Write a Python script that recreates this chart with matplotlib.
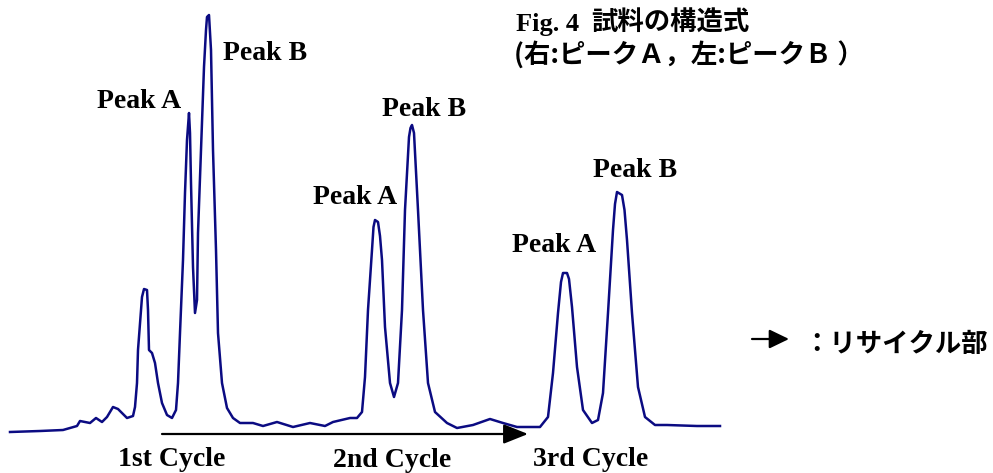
import matplotlib
matplotlib.use("Agg")
import matplotlib.pyplot as plt

# ---- data (retention time in chart units, detector signal) ----
time = [10, 40, 63, 77, 80, 90, 96, 102, 107, 113, 118, 127, 133, 135, 137, 138, 142, 144,
        147, 148, 149, 152, 155, 158, 162, 167, 172, 176, 178, 180, 183, 185, 187, 189, 190,
        191, 193, 195, 197, 198, 201, 204, 206, 207, 209, 211, 213, 216, 218, 222, 227, 233, 240,
        253, 263, 277, 293, 310, 325, 333, 350, 357, 362, 365, 368, 372, 373.5, 375, 378, 380,
        382, 385, 390, 394, 398, 402, 405, 409, 410.5, 412, 414, 418, 423, 428, 435, 447, 457,
        473, 490, 503, 517, 533, 540, 548, 553, 558, 561, 563, 567, 569, 572, 577, 583, 592,
        598, 603, 608, 613, 615, 617, 622, 624.5, 627, 632, 638, 645, 655, 667, 697, 720]
signal = [0, 1, 2, 6, 11, 9, 14, 10, 15, 25, 23, 14, 16, 25, 49, 82, 135, 143,
          142, 122, 82, 79, 69, 49, 29, 17, 14, 22, 49, 99, 172, 239, 292, 319, 299,
          249, 165, 119, 132, 199, 282, 365, 402, 415, 417, 382, 282, 182, 99, 49, 24, 14, 9,
          9, 6, 10, 5, 9, 6, 10, 14, 14, 20, 55, 122, 182, 205, 212, 210, 196,
          172, 105, 49, 35, 49, 122, 222, 295, 304, 307, 299, 222, 122, 49, 20, 9, 4,
          7, 13, 9, 5, 5, 5, 15, 59, 119, 150, 159, 159, 153, 125, 65, 22, 9,
          12, 39, 119, 202, 228, 240, 237, 222, 192, 119, 45, 15, 7, 7, 6, 6]

peak_labels = ["Peak A", "Peak B", "Peak A", "Peak B", "Peak A", "Peak B"]
cycle_labels = ["1st Cycle", "2nd Cycle", "3rd Cycle"]
title_fig = "Fig. 4"
title_jp = "試料の構造式"
subtitle = "(右:ピークＡ，左:ピークＢ ）"
legend_text = "：リサイクル部"

# ---- figure ----
W, H = 993, 473
fig = plt.figure(figsize=(W / 100, H / 100), dpi=100)
ax = fig.add_axes([0, 0, 1, 1])
ax.set_xlim(0, W)
ax.set_ylim(-41, 432)
ax.axis("off")

def row(y):
    # pixel row (from top) -> signal coordinate
    return 432 - y

ax.plot(time, signal, color="#0b0b82", lw=1.8, solid_joinstyle="round")

serif = dict(family="Liberation Serif", fontweight="bold", fontsize=20, color="black")
cjk = dict(family=["Noto Sans CJK JP", "DejaVu Sans"], fontweight="bold", fontsize=19,
           color="black")

# peak labels (left x, baseline row)
peak_pos = [(97, 108), (223, 60), (313, 204), (382, 116), (512, 252), (593, 177)]
for lab, (x, y) in zip(peak_labels, peak_pos):
    ax.text(x, row(y), lab, ha="left", va="baseline", **serif)

cycle_pos = [(118, 466), (333, 467), (533, 466)]
for lab, (x, y) in zip(cycle_labels, cycle_pos):
    ax.text(x, row(y), lab, ha="left", va="baseline", **serif)

# recycle arrow along the baseline
ax.annotate("", xy=(528, row(434)), xytext=(162, row(434)),
            arrowprops=dict(arrowstyle="-|>,head_length=1.5,head_width=0.6",
                            mutation_scale=10, lw=1.6, color="black",
                            shrinkA=0, shrinkB=0))

# legend arrow + text
ax.annotate("", xy=(789, row(339)), xytext=(752, row(339)),
            arrowprops=dict(arrowstyle="-|>,head_length=1.2,head_width=0.58",
                            mutation_scale=10, lw=1.6, color="black",
                            shrinkA=0, shrinkB=0))
ax.text(803, row(352), legend_text, ha="left", va="baseline", **cjk)

# title block
ax.text(516, row(31), title_fig, ha="left", va="baseline",
        family="Liberation Serif", fontweight="bold", fontsize=19, color="black")
ax.text(591, row(31), title_jp, ha="left", va="baseline", **cjk)
ax.text(514, row(63), subtitle, ha="left", va="baseline", **cjk)

fig.savefig("out.png", dpi=100)
